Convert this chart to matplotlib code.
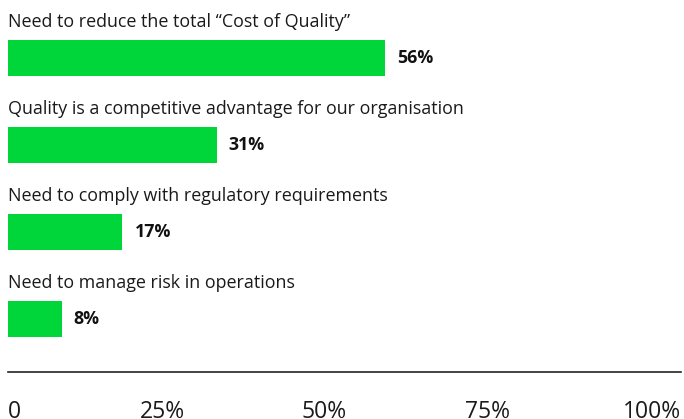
import matplotlib
matplotlib.use("Agg")
import matplotlib.pyplot as plt

categories = [
    "Need to reduce the total \u201cCost of Quality\u201d",
    "Quality is a competitive advantage for our organisation",
    "Need to comply with regulatory requirements",
    "Need to manage risk in operations",
]
values = [56, 31, 17, 8]
tick_labels = ["0", "25%", "50%", "75%", "100%"]

W, H = 684, 419
fig = plt.figure(figsize=(W / 100, H / 100), dpi=100)
ax = fig.add_axes([8 / W, (H - 372) / H, (681 - 8) / W, 372 / H])

step = 87.0
ax.set_xlim(0, 100)
ax.set_ylim((372 - 58) / step, -58 / step)
green = "#00d639"
txt = "#1a1a1a"
for i, (c, v) in enumerate(zip(categories, values)):
    ax.barh(i, v, height=36 / step, color=green, left=0)
    ax.text(0, i - 36 / step, c, ha="left", va="center", fontsize=12.9,
            family="Open Sans", color=txt)
    ax.annotate(f"{v}%", (v, i), xytext=(12, 0), textcoords="offset pixels",
                ha="left", va="center", fontsize=12.8, fontweight="bold",
                family="Open Sans", color="#111111")

for s in ["top", "right", "left"]:
    ax.spines[s].set_visible(False)
ax.spines["bottom"].set_color("#222222")
ax.spines["bottom"].set_linewidth(1.2)
ax.set_yticks([])
pos = [0, 22.9, 47.0, 71.2, 100]
ax.set_xticks(pos)
ax.set_xticklabels(tick_labels, fontsize=16.5, family="Open Sans", color=txt)
ax.tick_params(axis="x", length=0, pad=20)
labs = ax.get_xticklabels()
labs[0].set_ha("left")
labs[-1].set_ha("right")

fig.savefig("out.png", dpi=100)
